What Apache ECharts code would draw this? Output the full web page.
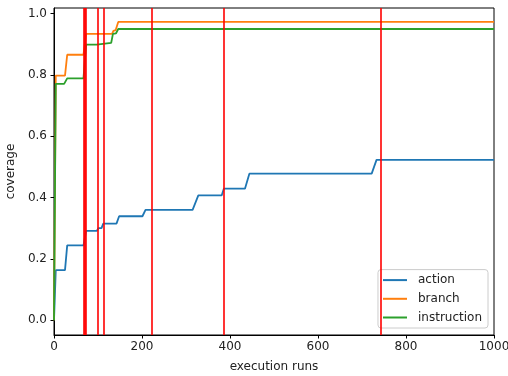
<!DOCTYPE html>
<html>
<head>
<meta charset="utf-8">
<script src="https://cdn.jsdelivr.net/npm/echarts@6/dist/echarts.min.js"></script>
<style>
  html, body { margin: 0; padding: 0; background: #fff; }
  #chart { width: 508px; height: 376px; }
</style>
</head>
<body>
<div id="chart"></div>
<script>
// coverage curves, [execution run, coverage]
const actionData = [
  [0, 0], [4, 0.163], [25, 0.163], [30, 0.244], [67, 0.244], [73, 0.291],
  [97, 0.291], [101, 0.30], [108, 0.30], [112, 0.315], [142, 0.315], [148, 0.339],
  [201, 0.339], [208, 0.36], [315, 0.36], [328, 0.407], [381, 0.407], [386, 0.429],
  [434, 0.429], [444, 0.478], [722, 0.478], [733, 0.523], [1000, 0.523],
];
const branchData = [
  [0, 0], [4, 0.798], [25, 0.798], [30, 0.866], [67, 0.866], [73, 0.934],
  [132, 0.934], [135, 0.944], [140, 0.946], [146, 0.973], [1000, 0.973],
];
const instructionData = [
  [0, 0], [4, 0.771], [23, 0.771], [30, 0.789], [67, 0.789], [73, 0.899],
  [97, 0.899], [101, 0.905], [130, 0.905], [134, 0.934], [141, 0.936], [146, 0.95],
  [1000, 0.95],
];
// red markers (vertical lines)
const markerRuns = [67, 70, 73, 100, 112, 223, 385, 743];

const seriesNames = ["action", "branch", "instruction"];
const seriesColors = ["#1f77b4", "#ff7f0e", "#2ca02c"];
const yTicks = [0, 0.2, 0.4, 0.6, 0.8, 1.0];

const FONT = "DejaVu Sans";
const TEXT = "#222";

const chart = echarts.init(document.getElementById("chart"), null, { renderer: "canvas" });

const lineSeries = [actionData, branchData, instructionData].map((d, i) => ({
  name: seriesNames[i],
  type: "line",
  data: d,
  showSymbol: false,
  symbol: "none",
  lineStyle: { color: seriesColors[i], width: 1.8 },
  itemStyle: { color: seriesColors[i] },
  z: 2,
}));

chart.setOption({
  animation: false,
  textStyle: { fontFamily: FONT },
  grid: {
    left: 54, right: 14, top: 8, bottom: 41,
    show: true, borderColor: "#000", borderWidth: 1,
    containLabel: false,
    outerBoundsMode: "none",
  },
  legend: {
    data: seriesNames,
    orient: "vertical",
    right: 20,
    bottom: 48,
    icon: "rect",
    itemWidth: 24,
    itemHeight: 2,
    itemGap: 3.7,
    padding: [3, 6, 3, 5],
    backgroundColor: "rgba(255,255,255,0.8)",
    borderColor: "#cccccc",
    borderWidth: 1,
    borderRadius: 3,
    textStyle: { fontFamily: FONT, fontSize: 12, color: TEXT, lineHeight: 15, padding: [0, 0, 0, 6] },
  },
  xAxis: {
    type: "value",
    min: 0,
    max: 1000,
    interval: 200,
    name: "execution runs",
    nameLocation: "middle",
    nameGap: 26,
    nameTextStyle: { fontFamily: FONT, fontSize: 12, color: TEXT },
    axisLine: { show: true, onZero: false, lineStyle: { color: "#000" } },
    axisTick: { show: true, inside: false, length: 3.5, lineStyle: { color: "#000" } },
    axisLabel: { fontFamily: FONT, fontSize: 12, color: TEXT, margin: 6, formatter: (v) => String(v) },
    splitLine: { show: false },
  },
  yAxis: {
    type: "value",
    min: -0.0485,
    max: 1.0185,
    name: "coverage",
    nameLocation: "middle",
    nameGap: 34,
    nameTextStyle: { fontFamily: FONT, fontSize: 12, color: TEXT },
    axisLine: { show: true, onZero: false, lineStyle: { color: "#000" } },
    axisTick: { show: true, inside: false, length: 3.5, lineStyle: { color: "#000" }, customValues: yTicks },
    axisLabel: {
      fontFamily: FONT, fontSize: 12, color: TEXT, margin: 7,
      customValues: yTicks,
      formatter: (v) => v.toFixed(1),
    },
    splitLine: { show: false },
  },
  series: [
    ...lineSeries,
    {
      name: "markers",
      type: "line",
      data: [],
      z: 3,
      markLine: {
        silent: true,
        symbol: ["none", "none"],
        label: { show: false },
        animation: false,
        lineStyle: { color: "#ff0000", width: 1.6, type: "solid" },
        data: markerRuns.map((x) => ({ xAxis: x })),
      },
    },
  ],
});
</script>
</body>
</html>
